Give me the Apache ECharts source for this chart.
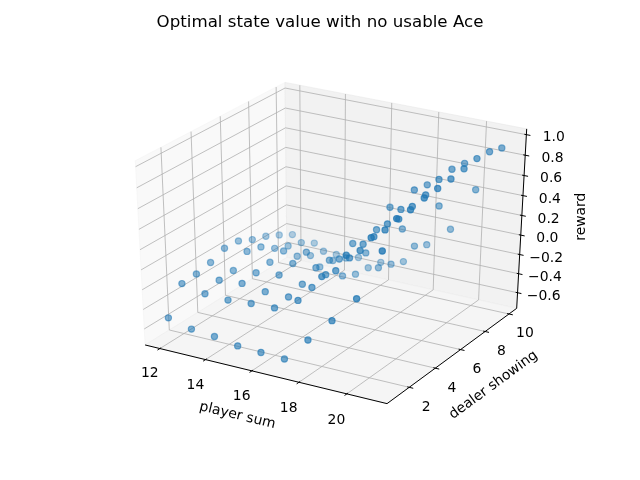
<!DOCTYPE html>
<html>
<head>
<meta charset="utf-8">
<script src="https://cdn.jsdelivr.net/npm/echarts@6/dist/echarts.min.js"></script>
<style>
  html, body { margin: 0; padding: 0; background: #fff; }
  #chart { width: 640px; height: 480px; }
</style>
</head>
<body>
<div id="chart"></div>
<script>
'use strict';

var titleText = 'Optimal state value with no usable Ace';
var xTitle = 'player sum';
var yTitle = 'dealer showing';
var zTitle = 'reward';

var playerSum = [12, 13, 14, 15, 16, 17, 18, 19, 20, 21];
var dealerShowing = [1, 2, 3, 4, 5, 6, 7, 8, 9, 10];

// one row per player sum, dealer showing 1..10
var reward12 = [-0.51, -0.25, -0.24, -0.21, -0.15, -0.16, -0.23, -0.28, -0.35, -0.43];
var reward13 = [-0.57, -0.30, -0.25, -0.24, -0.13, -0.17, -0.27, -0.33, -0.38, -0.47];
var reward14 = [-0.59, -0.31, -0.23, -0.21, -0.19, -0.16, -0.30, -0.38, -0.42, -0.54];
var reward15 = [-0.63, -0.29, -0.26, -0.18, -0.15, -0.12, -0.36, -0.38, -0.44, -0.52];
var reward16 = [-0.64, -0.28, -0.26, -0.22, -0.14, -0.15, -0.40, -0.47, -0.49, -0.52];
var reward17 = [-0.65, -0.15, -0.11, -0.07, 0.00, 0.07, -0.11, -0.35, -0.40, -0.46];
var reward18 = [-0.40, 0.14, 0.11, 0.15, 0.20, 0.26, 0.40, 0.10, -0.16, -0.23];
var reward19 = [-0.15, 0.40, 0.36, 0.41, 0.45, 0.51, 0.62, 0.59, 0.30, -0.02];
var reward20 = [0.12, 0.62, 0.61, 0.63, 0.67, 0.70, 0.77, 0.79, 0.77, 0.43];
var reward21 = [0.63, 0.85, 0.85, 0.88, 0.89, 0.90, 0.92, 0.94, 0.93, 0.89];

var xTicks = [12, 14, 16, 18, 20];
var yTicks = [2, 4, 6, 8, 10];
var zTicks = [-0.6, -0.4, -0.2, 0.0, 0.2, 0.4, 0.6, 0.8, 1.0];

var rewardRows = [reward12, reward13, reward14, reward15, reward16,
                  reward17, reward18, reward19, reward20, reward21];

// where the box of the 3d axes sits on the page (pane corners, pixels)
var boxCornersPx = [
    [[0, 0, 0], [145, 345]],
    [[1, 0, 0], [387.5, 403.7]],
    [[1, 1, 0], [516.7, 308.3]],
    [[0, 0, 1], [135.3, 160.7]],
    [[0, 1, 1], [285, 82.3]],
    [[1, 1, 1], [526.7, 129]]
];
var xTickEdgePx = [[160, 348.6], [206, 359.8], [251.7, 370.8], [298.3, 382.1], [346.7, 393.8]];

var FONT = 'DejaVu Sans';
var BLUE = [31, 119, 180];
// viewing direction (elev 30, azim -60) with the 4:4:3 box, used for depth shading
var VIEW = [0.433 * 4, -0.75 * 4, 0.5 * 3];

// limits like mplot3d: 5% margin, panes 1/48 further out
function paneRange(vals) {
    var lo = Math.min.apply(null, vals), hi = Math.max.apply(null, vals);
    var m = (hi - lo) * 0.05;
    lo -= m; hi += m;
    var e = (hi - lo) / 48;
    return [lo - e, hi + e];
}
var allRewards = [].concat.apply([], rewardRows);
var xr = paneRange(playerSum), yr = paneRange(dealerShowing), zr = paneRange(allRewards);
function nx(v) { return (v - xr[0]) / (xr[1] - xr[0]); }
function ny(v) { return (v - yr[0]) / (yr[1] - yr[0]); }
function nz(v) { return (v - zr[0]) / (zr[1] - zr[0]); }

function solve(A, b) {
    var n = b.length, c, r, k;
    for (c = 0; c < n; c++) {
        var piv = c;
        for (r = c + 1; r < n; r++) if (Math.abs(A[r][c]) > Math.abs(A[piv][c])) piv = r;
        var t = A[c]; A[c] = A[piv]; A[piv] = t;
        t = b[c]; b[c] = b[piv]; b[piv] = t;
        for (r = c + 1; r < n; r++) {
            var f = A[r][c] / A[c][c];
            for (k = c; k < n; k++) A[r][k] -= f * A[c][k];
            b[r] -= f * b[c];
        }
    }
    var x = new Array(n);
    for (var i = n - 1; i >= 0; i--) {
        var s = b[i];
        for (var j = i + 1; j < n; j++) s -= A[i][j] * x[j];
        x[i] = s / A[i][i];
    }
    return x;
}

// perspective camera fitted to the box (least squares DLT)
function fitCamera(pairs) {
    var n = 11, M = [], rhs = [], i, j;
    for (i = 0; i < n; i++) { M.push(new Array(n).fill(0)); rhs.push(0); }
    pairs.forEach(function (p) {
        var X = p[0][0], Y = p[0][1], Z = p[0][2], u = p[1][0], v = p[1][1];
        [[X, Y, Z, 1, 0, 0, 0, 0, -u * X, -u * Y, -u * Z, u],
         [0, 0, 0, 0, X, Y, Z, 1, -v * X, -v * Y, -v * Z, v]].forEach(function (a) {
            for (i = 0; i < n; i++) {
                for (j = 0; j < n; j++) M[i][j] += a[i] * a[j];
                rhs[i] += a[i] * a[11];
            }
        });
    });
    return solve(M, rhs);
}
var pairs = boxCornersPx.slice();
xTicks.forEach(function (t, i) { pairs.push([[nx(t), 0, 0], xTickEdgePx[i]]); });
var cam = fitCamera(pairs);

function project(X, Y, Z) {
    var w = cam[8] * X + cam[9] * Y + cam[10] * Z + 1;
    return [(cam[0] * X + cam[1] * Y + cam[2] * Z + cam[3]) / w,
            (cam[4] * X + cam[5] * Y + cam[6] * Z + cam[7]) / w];
}

// scatter points, far ones first, lighter with depth
var pts = [];
rewardRows.forEach(function (row, i) {
    row.forEach(function (r, j) {
        var X = nx(playerSum[i]), Y = ny(dealerShowing[j]), Z = nz(r);
        var p = project(X, Y, Z);
        p.push(VIEW[0] * X + VIEW[1] * Y + VIEW[2] * Z);   // nearness
        pts.push(p);
    });
});
var sMin = Math.min.apply(null, pts.map(function (p) { return p[2]; }));
var sMax = Math.max.apply(null, pts.map(function (p) { return p[2]; }));
pts.sort(function (a, b) { return a[2] - b[2]; });
var scatterData = pts.map(function (p) {
    var a = 1 - 0.6 * (sMax - p[2]) / (sMax - sMin);
    var c = 'rgba(' + BLUE.join(',') + ',' + a.toFixed(3) + ')';
    return { value: [p[0], p[1]], itemStyle: { color: c, borderColor: c, borderWidth: 1.2 } };
});

function fmtZ(v) { return v.toFixed(1).replace('-', '\u2212'); }

function renderFrame(params, api) {
    function pt(X, Y, Z) { var p = project(X, Y, Z); return api.coord([p[0], p[1]]); }
    function poly(points, fill, stroke) {
        return { type: 'polygon', shape: { points: points },
                 style: { fill: fill, stroke: stroke, lineWidth: 1 } };
    }
    function line(points, color, width) {
        return { type: 'polyline', shape: { points: points },
                 style: { stroke: color, lineWidth: width, fill: null } };
    }
    function label(p, text, size, rot) {
        return { type: 'text', x: p[0], y: p[1], rotation: rot || 0,
                 style: { text: text, fill: '#000', font: size + 'px "' + FONT + '"',
                          textAlign: 'center', textVerticalAlign: 'middle',
                          align: 'center', verticalAlign: 'middle' } };
    }
    var ch = [];
    ch.push(poly([pt(0, 0, 0), pt(0, 1, 0), pt(0, 1, 1), pt(0, 0, 1)], '#f9f9f9', 'rgba(242,242,242,0.5)'));
    ch.push(poly([pt(0, 1, 0), pt(1, 1, 0), pt(1, 1, 1), pt(0, 1, 1)], '#f2f2f2', 'rgba(230,230,230,0.5)'));
    ch.push(poly([pt(0, 0, 0), pt(1, 0, 0), pt(1, 1, 0), pt(0, 1, 0)], '#f5f5f5', 'rgba(236,236,236,0.5)'));

    var GRID = '#b0b0b0';
    xTicks.forEach(function (t) { var X = nx(t); ch.push(line([pt(X, 0, 0), pt(X, 1, 0), pt(X, 1, 1)], GRID, 0.8)); });
    yTicks.forEach(function (t) { var Y = ny(t); ch.push(line([pt(1, Y, 0), pt(0, Y, 0), pt(0, Y, 1)], GRID, 0.8)); });
    zTicks.forEach(function (t) { var Z = nz(t); ch.push(line([pt(0, 0, Z), pt(0, 1, Z), pt(1, 1, Z)], GRID, 0.8)); });

    ch.push(line([pt(0, 0, 0), pt(1, 0, 0)], '#000', 1));
    ch.push(line([pt(1, 0, 0), pt(1, 1, 0)], '#000', 1));
    ch.push(line([pt(1, 1, 0), pt(1, 1, 1)], '#000', 1));

    xTicks.forEach(function (t) {
        var X = nx(t);
        ch.push(line([pt(X, 0.008, 0), pt(X, -0.016, 0)], '#000', 1));
        ch.push(label(pt(X, -0.072, -0.105), String(t), 13.9));
    });
    yTicks.forEach(function (t) {
        var Y = ny(t);
        ch.push(line([pt(0.992, Y, 0), pt(1.016, Y, 0)], '#000', 1));
        ch.push(label(pt(1.07, Y, -0.092), String(t), 13.9));
    });
    zTicks.forEach(function (t) {
        var Z = nz(t);
        ch.push(line([pt(0.992, 1, Z), pt(1.016, 1, Z)], '#000', 1));
        ch.push(label(pt(1.108, 1, Z + 0.011), fmtZ(t), 13.9));
    });

    var a0 = pt(0, 0, 0), a1 = pt(1, 0, 0), a2 = pt(1, 1, 0);
    ch.push(label(pt(0.5, -0.18, -0.135), xTitle, 13.9, -Math.atan2(a1[1] - a0[1], a1[0] - a0[0])));
    ch.push(label(pt(1.163, 0.5, -0.124), yTitle, 13.9, -Math.atan2(a2[1] - a1[1], a2[0] - a1[0])));
    ch.push(label(pt(1.236, 1, 0.59), zTitle, 13.9, Math.PI / 2));

    return { type: 'group', children: ch };
}

var chart = echarts.init(document.getElementById('chart'));
chart.setOption({
    animation: false,
    backgroundColor: '#fff',
    title: {
        text: titleText, left: 'center', top: 9,
        textStyle: { fontFamily: FONT, fontSize: 16.67, fontWeight: 'normal', color: '#000' }
    },
    grid: { left: 0, right: 0, top: 0, bottom: 0 },
    xAxis: { type: 'value', min: 0, max: 640, show: false },
    yAxis: { type: 'value', min: 0, max: 480, inverse: true, show: false },
    series: [
        {
            type: 'custom', coordinateSystem: 'cartesian2d', data: [[0, 0]],
            renderItem: renderFrame, clip: false, silent: true, z: 1
        },
        {
            type: 'scatter', data: scatterData, symbol: 'circle', symbolSize: 6.2,
            silent: true, z: 3
        }
    ]
});
</script>
</body>
</html>
